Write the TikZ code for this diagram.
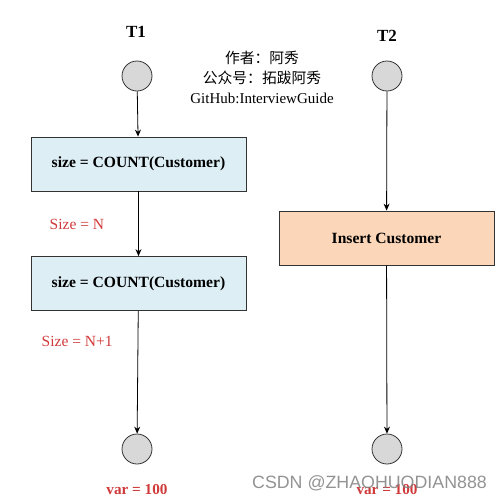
\documentclass[tikz,border=0pt]{standalone}
\usepackage{fontspec}
\setmainfont{Liberation Serif}
\newfontfamily\cjkfont{Noto Sans CJK SC}
\newfontfamily\markfont{Liberation Sans}
\usepackage{xcolor}
\usetikzlibrary{arrows.meta,positioning}
\definecolor{readblue}{HTML}{DDEEF5}
\definecolor{insertorange}{HTML}{FBD6B8}
\definecolor{dotgray}{HTML}{D8D8D8}
\definecolor{notered}{HTML}{D03A3A}
\definecolor{linegray}{HTML}{333333}

\begin{document}
\begin{tikzpicture}[
  x=1pt, y=-1pt,
  >={Stealth[length=7pt,width=6pt]},
  line width=0.8pt,
  state/.style={circle, draw=linegray, fill=dotgray, minimum size=30pt, inner sep=0pt},
  opbox/.style={rectangle, draw=linegray, minimum width=215pt, minimum height=54pt, font=\fontsize{15.6}{18}\selectfont\bfseries},
  txname/.style={font=\fontsize{17}{19}\selectfont\bfseries},
  note/.style={text=notered, font=\fontsize{15.5}{17}\selectfont},
  flow/.style={->, draw=black, line width=0.8pt}
]
  \useasboundingbox (0,0) rectangle (503,501);
  % transaction T1
  \node[txname] (t1) at (136,32) {T1};
  \node[state] (b1) at (137,76) {};
  \node[opbox, fill=readblue] (q1) at (138.5,164) {size = COUNT(Customer)};
  \node[note, anchor=west] (n1) at (46,224) {Size = N};
  \node[opbox, fill=readblue] (q2) at (138.5,283.5) {size = COUNT(Customer)};
  \node[note, anchor=west] (n2) at (38,341) {Size = N+1};
  \node[state] (e1) at (137,449) {};
  \node[note, font=\fontsize{15.2}{17}\selectfont\bfseries] (v1) at (137,490) {var = 100};
  % transaction T2
  \node[txname] (t2) at (387,36) {T2};
  \node[state] (b2) at (387,76) {};
  \node[opbox, fill=insertorange] (ins) at (386.5,238) {Insert Customer};
  \node[state] (e2) at (387,449) {};
  \node[note, font=\fontsize{15.2}{17}\selectfont\bfseries] (v2) at (387,490) {var = 100};
  % author
  \node[align=center, font=\fontsize{15}{20}\selectfont] (author) at (262,77)
    {{\cjkfont\fontsize{14.8}{20}\selectfont 作者：阿秀}\\{\cjkfont\fontsize{14.8}{20}\selectfont 公众号：拓跋阿秀}\\GitHub:InterviewGuide};
  \draw[flow] (b1) -- (q1);
  \draw[flow] (q1) -- (q2);
  \draw[flow] (q2) -- (e1);
  \draw[flow] (b2) -- (ins);
  \draw[flow] (ins) -- (e2);
  % watermark
  \node[text=gray, opacity=0.85, font=\markfont\fontsize{17.8}{19}\selectfont] (mark) at (369.5,483) {CSDN @ZHAOHUODIAN888};
\end{tikzpicture}
\end{document}
